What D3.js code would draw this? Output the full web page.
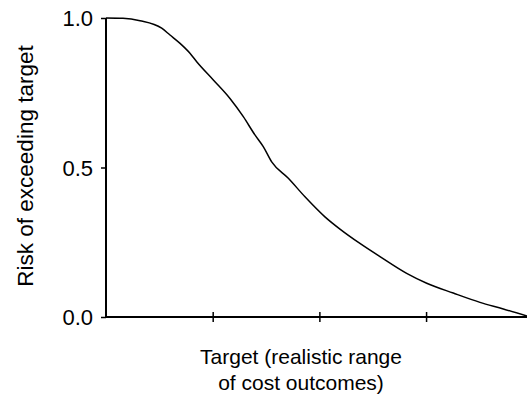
<!DOCTYPE html>
<html><head><meta charset="utf-8">
<script src="https://cdn.jsdelivr.net/npm/d3@7"></script>
<style>html,body{margin:0;padding:0;background:#fff;} text{font-family:"Liberation Sans",Arial,Helvetica,sans-serif;fill:#000;}</style>
</head><body>
<svg id="c" width="527" height="396"></svg>
<script>
// Target (x, in tick units) and risk of exceeding target (y)
const targets = [0, 0.159, 0.319, 0.522, 0.600, 0.694, 0.787, 0.850, 1.006, 1.162, 1.287, 1.396, 1.474, 1.553, 1.709, 1.865, 2.052, 2.193, 2.380, 2.568, 2.818, 3.006, 3.255, 3.505, 3.724, 3.946];
const risks   = [1.0, 0.999, 0.991, 0.966, 0.943, 0.915, 0.882, 0.854, 0.793, 0.731, 0.670, 0.609, 0.570, 0.519, 0.464, 0.402, 0.335, 0.294, 0.246, 0.202, 0.146, 0.113, 0.080, 0.049, 0.027, 0.003];
const yTicks = [0, 0.5, 1.0];
const xTicks = [1, 2, 3];
const yTitle = "Risk of exceeding target";
const xTitle = ["Target (realistic range", "of cost outcomes)"];

const svg = d3.select("#c");
const x = d3.scaleLinear().domain([0, 3.946]).range([106, 527]);
const y = d3.scaleLinear().domain([0, 1]).range([317, 18]);

const gy = svg.append("g").attr("transform", "translate(106,0)")
  .call(d3.axisLeft(y).tickValues(yTicks).tickFormat(d3.format(".1f")).tickSize(5).tickPadding(8));
gy.select(".domain").attr("stroke-width", 2).attr("d", `M0,${y(0)}V${y(1)}`);
gy.selectAll(".tick line").attr("stroke-width", 1.5);
gy.selectAll(".tick text").style("font-size", "22px").attr("dy", "0.36em");

const gx = svg.append("g").attr("transform", `translate(0,${y(0)})`)
  .call(d3.axisBottom(x).tickValues(xTicks).tickFormat("").tickSize(0));
gx.select(".domain").attr("stroke-width", 2).attr("d", `M${x(0)},0H${x(3.946)}`);
gx.selectAll(".tick line").attr("stroke-width", 1.5).attr("y1", -5).attr("y2", 5);

const line = d3.line().x((d, i) => x(targets[i])).y(d => y(d)).curve(d3.curveMonotoneX);
svg.append("path").datum(risks).attr("d", line).attr("fill", "none").attr("stroke", "#000").attr("stroke-width", 1.5);

svg.append("text").attr("transform", "translate(33,166) rotate(-90)").attr("text-anchor", "middle")
  .style("font-size", "22.5px").text(yTitle);
svg.append("text").attr("text-anchor", "middle").style("font-size", "21px")
  .selectAll("tspan").data(xTitle).join("tspan").attr("x", 301).attr("y", (d, i) => 364 + i * 26).text(d => d);
</script>
</body></html>
